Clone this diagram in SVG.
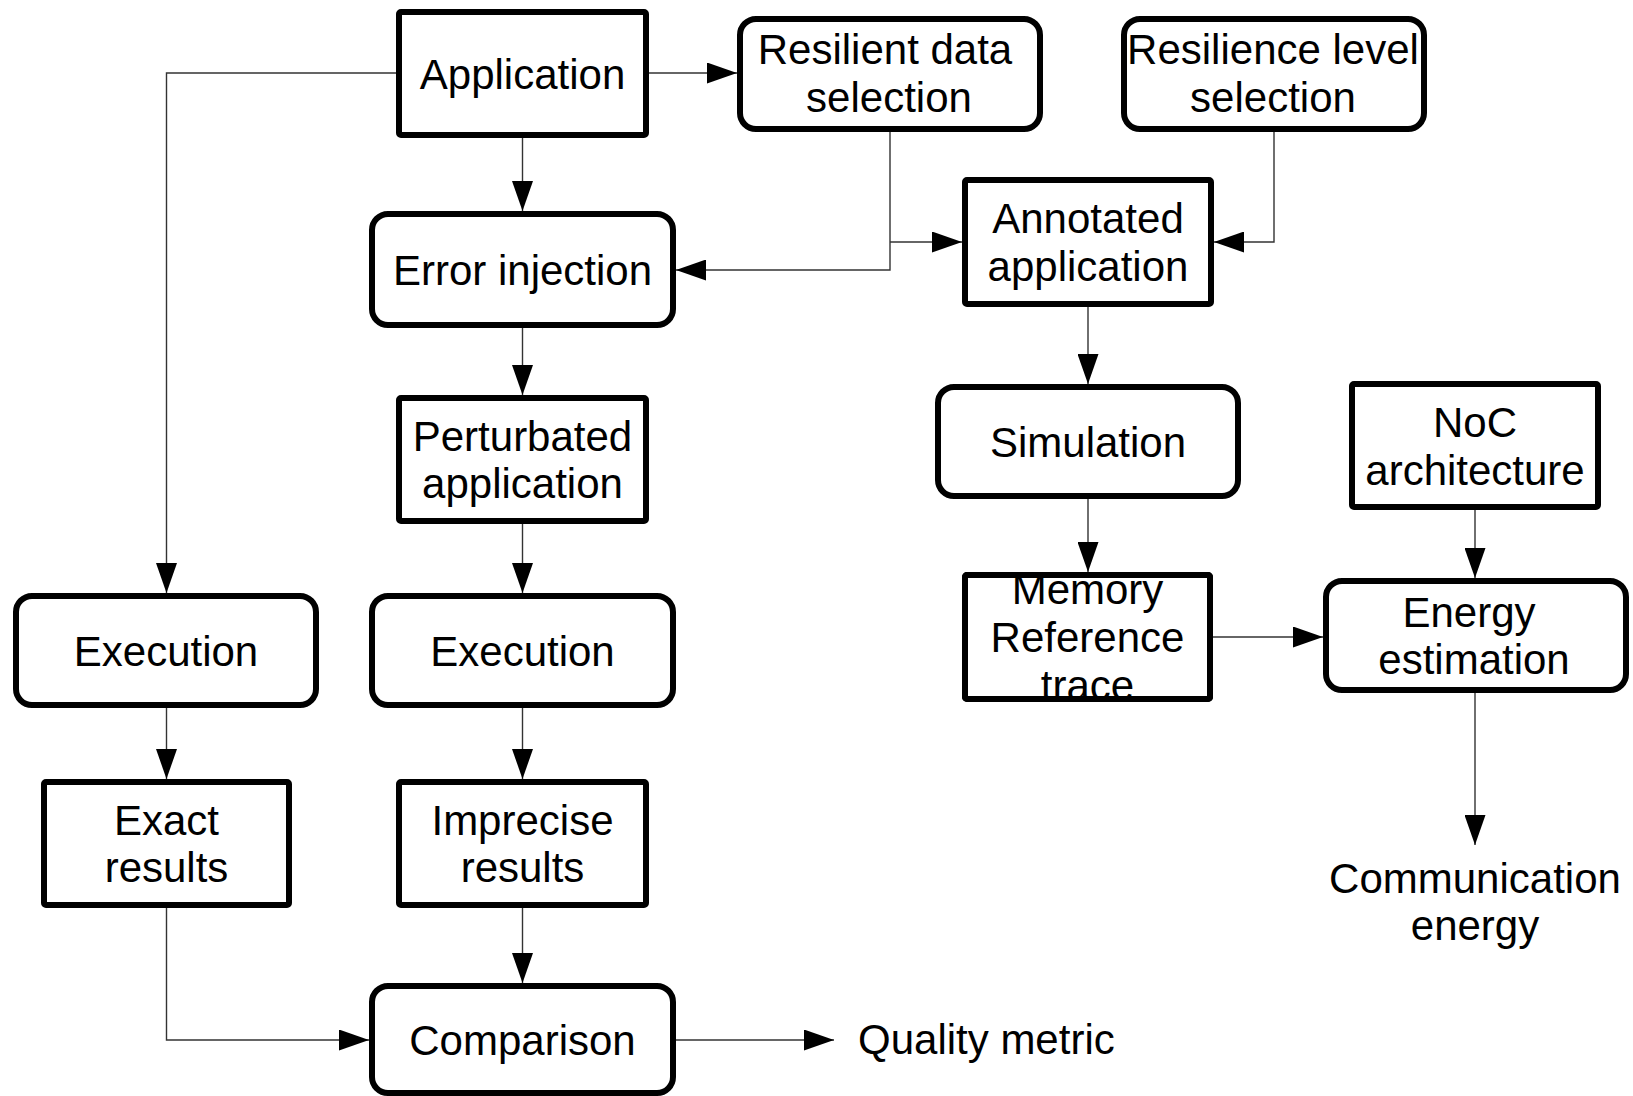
<svg xmlns="http://www.w3.org/2000/svg" width="1633" height="1096" viewBox="0 0 1633 1096">
  <style>
    .box { fill: #fff; stroke: #000; stroke-width: 6; }
    .frame { fill: none; stroke: #000; stroke-width: 6; }
    .lbl { font-family: "Liberation Sans", Arial, sans-serif; font-size: 42px; fill: #000; text-anchor: middle; }
    .free { font-family: "Liberation Sans", Arial, sans-serif; font-size: 42px; fill: #000; }
    .wire { fill: none; stroke: #333; stroke-width: 1.4; }
  </style>
  <defs>
    <marker id="arrow" markerUnits="userSpaceOnUse" markerWidth="30" markerHeight="21" refX="30" refY="10.5" orient="auto">
      <path d="M0,0 L30,10.5 L0,21 Z" fill="#000"/>
    </marker>
  </defs>
  <rect width="1633" height="1096" fill="#fff"/>

  <!-- connectors -->
  <g id="connectors">
    <path class="wire" d="M396,73 H166.5 V593" marker-end="url(#arrow)"/>
    <path class="wire" d="M649,73 H737" marker-end="url(#arrow)"/>
    <path class="wire" d="M522.5,138 V211" marker-end="url(#arrow)"/>
    <path class="wire" d="M890,132 V270 H676" marker-end="url(#arrow)"/>
    <path class="wire" d="M890,242 H962" marker-end="url(#arrow)"/>
    <path class="wire" d="M1274,132 V242 H1214" marker-end="url(#arrow)"/>
    <path class="wire" d="M1088,307 V384" marker-end="url(#arrow)"/>
    <path class="wire" d="M1088,499 V572" marker-end="url(#arrow)"/>
    <path class="wire" d="M1475,510 V578" marker-end="url(#arrow)"/>
    <path class="wire" d="M1213,637 H1323" marker-end="url(#arrow)"/>
    <path class="wire" d="M1475,693 V845" marker-end="url(#arrow)"/>
    <path class="wire" d="M522.5,328 V395" marker-end="url(#arrow)"/>
    <path class="wire" d="M522.5,524 V593" marker-end="url(#arrow)"/>
    <path class="wire" d="M166.5,708 V779" marker-end="url(#arrow)"/>
    <path class="wire" d="M522.5,708 V779" marker-end="url(#arrow)"/>
    <path class="wire" d="M166.5,908 V1040 H369" marker-end="url(#arrow)"/>
    <path class="wire" d="M522.5,908 V983" marker-end="url(#arrow)"/>
    <path class="wire" d="M676,1040 H834" marker-end="url(#arrow)"/>
  </g>

  <!-- nodes -->
  <g id="application">
    <rect class="box" x="399" y="12" width="247" height="123" rx="2"/>
    <text class="lbl" x="522.5" y="88.5">Application</text>
  </g>
  <g id="resilient-data">
    <rect class="box" x="740" y="19" width="300" height="110" rx="16"/>
    <text class="lbl" x="885" y="64">Resilient data</text>
    <text class="lbl" x="889" y="112">selection</text>
  </g>
  <g id="resilience-level">
    <rect class="box" x="1124" y="19" width="300" height="110" rx="16"/>
    <text class="lbl" x="1273" y="64">Resilience level</text>
    <text class="lbl" x="1273" y="112">selection</text>
  </g>
  <g id="annotated">
    <rect class="box" x="965" y="180" width="246" height="124" rx="2"/>
    <text class="lbl" x="1088" y="233">Annotated</text>
    <text class="lbl" x="1088" y="281">application</text>
  </g>
  <g id="error-injection">
    <rect class="box" x="372" y="214" width="301" height="111" rx="16"/>
    <text class="lbl" x="522.5" y="284.5">Error injection</text>
  </g>
  <g id="perturbated">
    <rect class="box" x="399" y="398" width="247" height="123" rx="2"/>
    <text class="lbl" x="522.5" y="451">Perturbated</text>
    <text class="lbl" x="522.5" y="498">application</text>
  </g>
  <g id="simulation">
    <rect class="box" x="938" y="387" width="300" height="109" rx="16"/>
    <text class="lbl" x="1088" y="456.5">Simulation</text>
  </g>
  <g id="noc">
    <rect class="box" x="1352" y="384" width="246" height="123" rx="2"/>
    <text class="lbl" x="1475" y="437">NoC</text>
    <text class="lbl" x="1475" y="485">architecture</text>
  </g>
  <g id="memory-trace">
    <rect class="box" x="965" y="575" width="245" height="124" rx="2"/>
    <text class="lbl" x="1087.5" y="604">Memory</text>
    <text class="lbl" x="1087.5" y="652">Reference</text>
    <text class="lbl" x="1087.5" y="700">trace</text>
    <rect class="frame" x="965" y="575" width="245" height="124" rx="2"/>
  </g>
  <g id="energy-estimation">
    <rect class="box" x="1326" y="581" width="300" height="109" rx="16"/>
    <text class="lbl" x="1469" y="627">Energy</text>
    <text class="lbl" x="1474" y="674">estimation</text>
  </g>
  <g id="execution-exact">
    <rect class="box" x="16" y="596" width="300" height="109" rx="16"/>
    <text class="lbl" x="166" y="665.5">Execution</text>
  </g>
  <g id="execution-imprecise">
    <rect class="box" x="372" y="596" width="301" height="109" rx="16"/>
    <text class="lbl" x="522.5" y="665.5">Execution</text>
  </g>
  <g id="exact-results">
    <rect class="box" x="44" y="782" width="245" height="123" rx="2"/>
    <text class="lbl" x="166.5" y="835">Exact</text>
    <text class="lbl" x="166.5" y="882">results</text>
  </g>
  <g id="imprecise-results">
    <rect class="box" x="399" y="782" width="247" height="123" rx="2"/>
    <text class="lbl" x="522.5" y="835">Imprecise</text>
    <text class="lbl" x="522.5" y="882">results</text>
  </g>
  <g id="comparison">
    <rect class="box" x="372" y="986" width="301" height="107" rx="16"/>
    <text class="lbl" x="522.5" y="1054.5">Comparison</text>
  </g>
  <g id="quality-metric">
    <text class="free" x="858" y="1054">Quality metric</text>
  </g>
  <g id="communication-energy">
    <text class="lbl" x="1475" y="893">Communication</text>
    <text class="lbl" x="1475" y="940">energy</text>
  </g>
</svg>
